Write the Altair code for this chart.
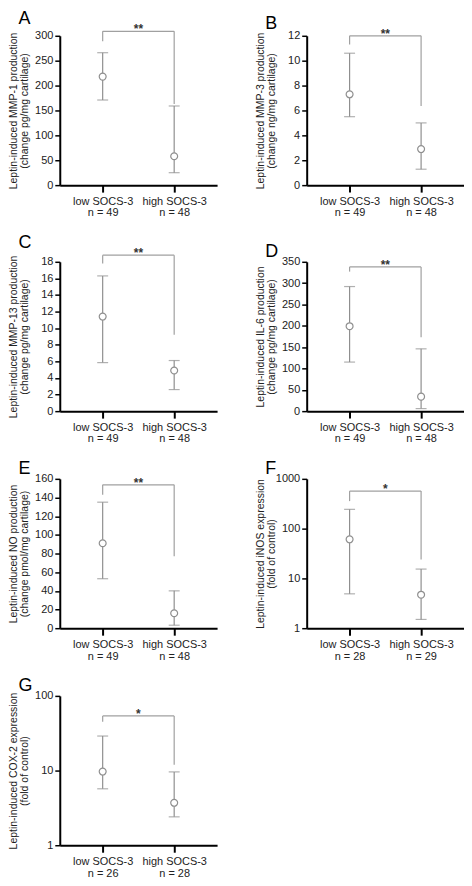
import altair as alt
import pandas as pd

# ---------------- data ----------------
letters = ["A", "B", "C", "D", "E", "F", "G"]
titles = [
    ["Leptin-induced MMP-1 production", "(change pg/mg cartilage)"],
    ["Leptin-induced MMP-3 production", "(change ng/mg cartilage)"],
    ["Leptin-induced MMP-13 production", "(change pg/mg cartilage)"],
    ["Leptin-induced IL-6 production", "(change pg/mg cartilage)"],
    ["Leptin-induced NO production", "(change pmol/mg cartilage)"],
    ["Leptin-induced iNOS expression", "(fold of control)"],
    ["Leptin-induced COX-2 expression", "(fold of control)"],
]
groups = ["low SOCS-3", "high SOCS-3"]
n_counts = [[49, 48], [49, 48], [49, 48], [49, 48], [49, 48], [28, 29], [26, 28]]
means = [[218, 58], [7.3, 2.9], [11.4, 4.9], [199, 34], [91, 16], [61, 4.7], [9.7, 3.7]]
lows = [[171, 25], [5.5, 1.28], [5.85, 2.6], [115, 6], [53, 3.2], [4.9, 1.5], [5.7, 2.4]]
highs = [[266, 159], [10.6, 5.0], [16.3, 6.1], [292, 146], [135, 40], [244, 15.4], [29, 9.6]]
bracket_top = [309, 12.0, 18.8, 338, 153.6, 567, 54]
leg_bottom = [[289, 163], [11.3, 6.35], [17.8, 9.2], [327, 173], [143, 77], [357, 24], [45, 12]]
stars = ["**", "**", "**", "**", "**", "*", "*"]
y_domains = [[0, 300], [0, 12], [0, 18], [0, 350], [0, 160], [1, 1000], [1, 100]]
y_ticks = [
    [0, 50, 100, 150, 200, 250, 300],
    [0, 2, 4, 6, 8, 10, 12],
    [0, 2, 4, 6, 8, 10, 12, 14, 16, 18],
    [0, 50, 100, 150, 200, 250, 300, 350],
    [0, 20, 40, 60, 80, 100, 120, 140, 160],
    [1, 10, 100, 1000],
    [1, 10, 100],
]
log_scale = [False, False, False, False, False, True, True]

# ---------------- style ----------------
PW, PH = 158, 150
GREY = "#8f8f8f"
FONT = "Liberation Sans"


def panel(i):
    cats = [f"{g}|n = {n}" for g, n in zip(groups, n_counts[i])]
    df = pd.DataFrame({"cat": cats, "mean": means[i], "lo": lows[i], "hi": highs[i],
                       "leg": leg_bottom[i], "top": bracket_top[i]})
    br = pd.DataFrame({"c1": [cats[0]], "c2": [cats[1]], "top": [bracket_top[i]],
                       "stars": [stars[i]]})

    if log_scale[i]:
        yscale = alt.Scale(type="log", domain=y_domains[i], nice=False)
    else:
        yscale = alt.Scale(domain=y_domains[i], nice=False, zero=False)

    xscale = alt.Scale(type="point", padding=0.6, domain=cats)
    xaxis = alt.Axis(title=None, labelExpr="split(datum.label, '|')",
                     labelAngle=0, labelFontSize=11, labelFont=FONT,
                     labelColor="#222", labelLineHeight=12,
                     tickSize=7, tickWidth=2, tickColor="#000",
                     domainColor="#000", domainWidth=2, labelPadding=3,
                     grid=False)
    yaxis = alt.Axis(title=titles[i], values=y_ticks[i], format="d",
                     labelOverlap=False, tickCount=len(y_ticks[i]),
                     titleFont=FONT, titleFontSize=10.5, titleFontWeight="normal",
                     titleColor="#222", titleLineHeight=11.5, titlePadding=4,
                     labelFont=FONT, labelFontSize=11, labelColor="#222",
                     tickSize=5, tickWidth=1.5, tickColor="#000", labelPadding=2,
                     domainColor="#000", domainWidth=2, grid=False,
                     minExtent=26, maxExtent=26)

    def X(f):
        return alt.X(f"{f}:N", scale=xscale, axis=xaxis)

    def Y(f):
        return alt.Y(f"{f}:Q", scale=yscale, axis=yaxis)

    base = alt.Chart(df)
    err = base.mark_rule(color=GREY, strokeWidth=1.2).encode(
        x=X("cat"), y=Y("lo"), y2="hi:Q")
    cap_lo = base.mark_tick(color=GREY, thickness=1.2, size=11).encode(
        x=X("cat"), y=Y("lo"))
    cap_hi = base.mark_tick(color=GREY, thickness=1.2, size=11).encode(
        x=X("cat"), y=Y("hi"))
    dots = base.mark_point(shape="circle", filled=True, fill="white", stroke=GREY,
                           strokeWidth=1.2, size=48, opacity=1).encode(
        x=X("cat"), y=Y("mean"))
    legs = base.mark_rule(color="#a0a0a0", strokeWidth=1.2).encode(
        x=X("cat"), y=Y("top"), y2="leg:Q")
    bar = alt.Chart(br).mark_rule(color="#a0a0a0", strokeWidth=1.2).encode(
        x=X("c1"), x2="c2:N", y=Y("top"))
    txt = alt.Chart(br).mark_text(font=FONT, fontSize=12, fontWeight="bold",
                                  color="#333", baseline="alphabetic", dy=2).encode(
        x=alt.value(PW / 2), y=Y("top"), text="stars:N")

    return alt.layer(err, cap_lo, cap_hi, legs, bar, dots, txt).properties(
        width=PW, height=PH,
        title=alt.TitleParams(letters[i], anchor="start", frame="bounds",
                              font=FONT, fontSize=18, fontWeight="normal",
                              color="#000", dx=10, offset=-5),
    )


chart = alt.concat(*[panel(i) for i in range(7)], columns=2,
                   spacing=alt.RowColnumber(row=16, column=38)).configure(
    padding=0, background="white"
).configure_view(stroke=None)

chart = chart.properties(padding={"left": 0, "top": 0, "right": 0, "bottom": 0})

chart.save("out.html", embed_options={"renderer": "svg", "actions": False})
